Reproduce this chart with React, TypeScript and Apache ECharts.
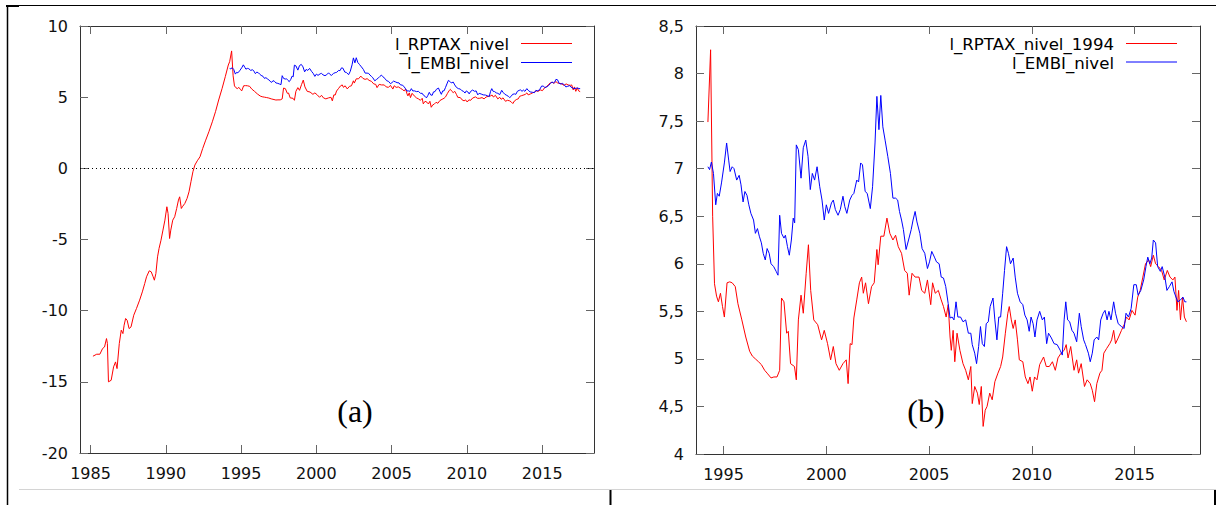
import React, { useEffect, useRef } from 'react';
import * as echarts from 'echarts';

// l_RPTAX_nivel before the EMBI sample starts (decimal years)
const rptaxEarlyYears = [
  1985.16, 1985.41, 1985.62, 1985.8, 1985.93, 1986.06, 1986.12, 1986.19, 1986.37, 1986.53,
  1986.66, 1986.76, 1986.91, 1987.04, 1987.15, 1987.23, 1987.33, 1987.43, 1987.56, 1987.69,
  1987.87, 1988.05, 1988.26, 1988.44, 1988.6, 1988.72, 1988.9, 1989.03, 1989.16, 1989.24,
  1989.34, 1989.45, 1989.55, 1989.68, 1989.81, 1989.94, 1990.07, 1990.15, 1990.25, 1990.33,
  1990.46, 1990.59, 1990.72, 1990.84, 1990.92, 1991.03, 1991.1, 1991.26, 1991.41, 1991.54,
  1991.67, 1991.8, 1991.93, 1992.09, 1992.27, 1992.45, 1992.65, 1992.86, 1993.09, 1993.3,
  1993.51, 1993.74, 1993.95, 1994.15,
];
const rptaxEarlyValues = [
  -13.2, -13.06, -13.06, -12.66, -12.55, -11.96, -12.3, -15.0, -14.89, -13.95,
  -13.6, -14.07, -12.31, -11.37, -11.61, -11.02, -10.55, -10.67, -11.26, -11.14,
  -10.32, -9.85, -9.26, -8.68, -8.09, -7.62, -7.2, -7.27, -7.62, -7.86,
  -7.39, -6.22, -5.63, -5.05, -4.34, -3.64, -2.7, -3.17, -4.93, -4.34,
  -3.64, -3.4, -2.82, -2.23, -2.0, -2.82, -2.7, -2.47, -2.12, -1.65,
  -0.94, -0.24, 0.23, 0.53, 0.81, 1.4, 1.98, 2.57, 3.27, 3.98,
  4.8, 5.62, 6.44, 7.26,
];

// l_RPTAX_nivel from 1994 on (also drawn as l_RPTAX_nivel_1994)
const rptaxYears = [
  1994.24, 1994.37, 1994.47, 1994.56, 1994.66, 1994.75, 1994.85, 1994.95, 1995.04, 1995.17,
  1995.3, 1995.42, 1995.57, 1995.7, 1995.89, 1996.08, 1996.27, 1996.4, 1996.55, 1996.7,
  1996.84, 1997.0, 1997.12, 1997.31, 1997.45, 1997.6, 1997.73, 1997.82, 1997.94, 1998.07,
  1998.15, 1998.26, 1998.45, 1998.54, 1998.64, 1998.77, 1998.88, 1999.02, 1999.13, 1999.24,
  1999.39, 1999.58, 1999.77, 1999.9, 2000.06, 2000.21, 2000.34, 2000.47, 2000.63, 2000.81,
  2000.97, 2001.06, 2001.16, 2001.25, 2001.34, 2001.48, 2001.61, 2001.72, 2001.8, 2001.91,
  2002.05, 2002.2, 2002.33, 2002.46, 2002.52, 2002.65, 2002.8, 2002.95, 2003.09, 2003.24,
  2003.37, 2003.5, 2003.66, 2003.81, 2003.94, 2004.03, 2004.17, 2004.32, 2004.51, 2004.64,
  2004.79, 2004.92, 2005.08, 2005.17, 2005.3, 2005.45, 2005.59, 2005.7, 2005.83, 2005.93,
  2006.02, 2006.08, 2006.17, 2006.25, 2006.36, 2006.5, 2006.65, 2006.78, 2006.91, 2007.03,
  2007.1, 2007.22, 2007.35, 2007.44, 2007.54, 2007.63, 2007.73, 2007.82, 2007.95, 2008.07,
  2008.2, 2008.35, 2008.48, 2008.58, 2008.71, 2008.83, 2008.9, 2009.0, 2009.09, 2009.19,
  2009.3, 2009.39, 2009.56, 2009.68, 2009.81, 2009.91, 2010.02, 2010.13, 2010.25, 2010.38,
  2010.57, 2010.7, 2010.85, 2011.0, 2011.14, 2011.27, 2011.42, 2011.57, 2011.67, 2011.76,
  2011.89, 2012.05, 2012.18, 2012.27, 2012.4, 2012.56, 2012.69, 2012.84, 2012.94, 2013.05,
  2013.16, 2013.31, 2013.41, 2013.5, 2013.64, 2013.79, 2013.88, 2013.98, 2014.07, 2014.22,
  2014.36, 2014.49, 2014.6, 2014.73, 2014.87, 2015.02, 2015.15, 2015.27, 2015.4, 2015.53,
  2015.68, 2015.78, 2015.91, 2016.02, 2016.16, 2016.31, 2016.44, 2016.59, 2016.72, 2016.86,
  2016.96, 2017.06, 2017.14, 2017.23, 2017.33, 2017.42, 2017.52,
];
const rptaxValues = [
  7.49, 8.25, 6.5, 5.79, 5.66, 5.6, 5.69, 5.55, 5.44, 5.8,
  5.81, 5.8, 5.76, 5.58, 5.41, 5.23, 5.08, 5.03, 5.0, 4.97,
  4.94, 4.88, 4.85, 4.8, 4.81, 4.81, 4.88, 5.64, 5.6, 5.27,
  5.29, 4.95, 4.92, 4.78, 5.41, 5.67, 5.48, 5.9, 6.2, 5.72,
  5.41, 5.36, 5.2, 5.3, 5.16, 4.99, 5.13, 4.95, 4.88, 4.95,
  4.99, 4.74, 5.16, 5.15, 5.43, 5.62, 5.8, 5.86, 5.69, 5.8,
  5.58, 5.76, 5.8, 6.15, 5.99, 6.29, 6.29, 6.48, 6.32, 6.25,
  6.3, 6.18, 6.11, 5.93, 5.9, 5.67, 5.9, 5.86, 5.86, 5.72,
  5.69, 5.83, 5.57, 5.8, 5.69, 5.72, 5.62, 5.55, 5.44, 5.57,
  5.23, 5.09, 5.3, 4.97, 5.27, 5.09, 4.95, 4.88, 4.78, 4.92,
  4.53, 4.71, 4.64, 4.52, 4.71, 4.29, 4.46, 4.5, 4.64, 4.57,
  4.76, 4.85, 4.92, 5.02, 5.27, 5.48, 5.55, 5.41, 5.32, 5.41,
  5.2, 4.99, 4.97, 4.81, 4.74, 4.81, 4.66, 4.81, 4.78, 4.94,
  5.02, 4.92, 4.92, 4.97, 4.88, 5.01, 5.06, 5.09, 5.15, 5.01,
  5.13, 4.88, 4.99, 4.85, 4.95, 4.71, 4.78, 4.74, 4.67, 4.55,
  4.74, 4.85, 4.88, 5.06, 5.11, 5.16, 5.2, 5.3, 5.16, 5.23,
  5.3, 5.36, 5.44, 5.41, 5.51, 5.46, 5.65, 5.72, 5.86, 6.0,
  6.04, 5.97, 6.09, 6.0, 5.97, 5.93, 5.83, 5.93, 5.86, 5.83,
  5.86, 5.51, 5.72, 5.41, 5.65, 5.44, 5.39,
];

// l_EMBI_nivel
const embiYears = [
  1994.24, 1994.32, 1994.41, 1994.51, 1994.62, 1994.7, 1994.79, 1994.9, 1995.04, 1995.15,
  1995.25, 1995.32, 1995.42, 1995.51, 1995.64, 1995.76, 1995.85, 1995.95, 1996.04, 1996.14,
  1996.23, 1996.33, 1996.46, 1996.55, 1996.65, 1996.74, 1996.84, 1996.93, 1997.03, 1997.12,
  1997.22, 1997.31, 1997.44, 1997.56, 1997.65, 1997.73, 1997.82, 1997.94, 1998.01, 1998.11,
  1998.2, 1998.3, 1998.39, 1998.46, 1998.54, 1998.64, 1998.77, 1998.88, 1999.0, 1999.11,
  1999.22, 1999.32, 1999.43, 1999.55, 1999.68, 1999.79, 1999.9, 2000.0, 2000.11, 2000.25,
  2000.34, 2000.44, 2000.57, 2000.68, 2000.81, 2000.9, 2001.0, 2001.14, 2001.25, 2001.34,
  2001.48, 2001.57, 2001.67, 2001.76, 2001.89, 2001.99, 2002.14, 2002.25, 2002.37, 2002.46,
  2002.56, 2002.65, 2002.75, 2002.86, 2002.99, 2003.12, 2003.24, 2003.37, 2003.47, 2003.56,
  2003.66, 2003.75, 2003.88, 2004.0, 2004.13, 2004.22, 2004.32, 2004.41, 2004.55, 2004.66,
  2004.79, 2004.92, 2005.02, 2005.13, 2005.26, 2005.36, 2005.49, 2005.59, 2005.7, 2005.81,
  2005.93, 2006.02, 2006.12, 2006.21, 2006.31, 2006.4, 2006.53, 2006.65, 2006.78, 2006.91,
  2007.03, 2007.1, 2007.22, 2007.31, 2007.41, 2007.5, 2007.59, 2007.69, 2007.78, 2007.88,
  2007.97, 2008.11, 2008.2, 2008.3, 2008.39, 2008.48, 2008.58, 2008.67, 2008.77, 2008.86,
  2008.96, 2009.09, 2009.19, 2009.3, 2009.43, 2009.56, 2009.66, 2009.77, 2009.87, 2009.96,
  2010.06, 2010.15, 2010.25, 2010.38, 2010.51, 2010.61, 2010.72, 2010.81, 2010.95, 2011.08,
  2011.23, 2011.38, 2011.48, 2011.57, 2011.65, 2011.74, 2011.84, 2011.95, 2012.05, 2012.18,
  2012.31, 2012.4, 2012.52, 2012.61, 2012.75, 2012.84, 2012.94, 2013.03, 2013.16, 2013.25,
  2013.35, 2013.47, 2013.56, 2013.66, 2013.75, 2013.85, 2013.98, 2014.07, 2014.2, 2014.36,
  2014.49, 2014.58, 2014.7, 2014.83, 2014.96, 2015.08, 2015.17, 2015.3, 2015.44, 2015.55,
  2015.64, 2015.74, 2015.83, 2015.91, 2016.02, 2016.12, 2016.25, 2016.34, 2016.48, 2016.57,
  2016.69, 2016.82, 2016.91, 2017.01, 2017.1, 2017.23, 2017.35, 2017.44, 2017.52,
];
const embiValues = [
  7.02, 6.99, 7.07, 6.95, 6.62, 6.74, 6.71, 6.85, 7.06, 7.27,
  7.09, 6.97, 7.02, 7.0, 6.88, 6.93, 6.83, 6.65, 6.76, 6.72,
  6.62, 6.53, 6.46, 6.32, 6.37, 6.29, 6.22, 6.11, 6.04, 6.16,
  6.11, 6.0, 5.97, 5.92, 5.88, 6.51, 6.32, 6.27, 6.3, 6.18,
  6.09, 6.25, 6.48, 6.43, 7.25, 7.2, 6.9, 7.22, 7.3, 7.13,
  6.78, 6.95, 6.88, 7.02, 6.81, 6.67, 6.46, 6.62, 6.53, 6.64,
  6.67, 6.57, 6.51, 6.57, 6.71, 6.6, 6.53, 6.67, 6.72, 6.74,
  6.88, 6.86, 7.06, 7.04, 6.76, 6.74, 6.58, 6.81, 7.27, 7.76,
  7.41, 7.77, 7.44, 7.3, 7.13, 6.95, 6.69, 6.69, 6.67, 6.55,
  6.46, 6.36, 6.15, 6.25, 6.36, 6.46, 6.55, 6.44, 6.32, 6.16,
  6.11, 5.95, 6.02, 6.13, 6.07, 6.02, 6.0, 5.86, 5.85, 5.76,
  5.58, 5.43, 5.44, 5.41, 5.6, 5.44, 5.44, 5.39, 5.41, 5.27,
  5.27, 5.15, 5.06, 4.95, 5.13, 5.34, 5.16, 5.13, 5.37, 5.39,
  5.55, 5.64, 5.41, 5.2, 5.44, 5.44, 5.69, 5.93, 6.18, 6.11,
  6.0, 6.06, 5.86, 5.69, 5.6, 5.57, 5.46, 5.41, 5.29, 5.44,
  5.37, 5.23, 5.41, 5.5, 5.41, 5.44, 5.16, 5.27, 5.22, 5.16,
  5.15, 5.09, 5.04, 5.41, 5.6, 5.41, 5.39, 5.3, 5.27, 5.18,
  5.48, 5.34, 5.2, 5.15, 5.06, 4.97, 5.06, 5.2, 5.23, 5.2,
  5.41, 5.48, 5.51, 5.41, 5.5, 5.41, 5.6, 5.48, 5.37, 5.34,
  5.32, 5.48, 5.44, 5.53, 5.78, 5.78, 5.67, 5.72, 5.83, 5.97,
  6.07, 6.0, 6.06, 6.25, 6.22, 5.97, 5.92, 5.97, 5.85, 5.72,
  5.76, 5.81, 5.71, 5.65, 5.6, 5.62, 5.65, 5.6, 5.6,
];

const leftYearTicks = [1985, 1990, 1995, 2000, 2005, 2010, 2015];
const rightYearTicks = [1995, 2000, 2005, 2010, 2015];

const RED = '#ff0000';
const BLUE = '#0000ff';
const SANS = 'DejaVu Sans';

const pairs = (xs: number[], ys: number[]) => xs.map((x, i) => [x, ys[i]]);

const frameLine = { show: true, onZero: false, lineStyle: { color: '#333', width: 1 } };
const tickStyle = { color: '#666', width: 1 };
const labelStyle = { color: '#111', fontFamily: SANS, fontSize: 16 };

function xAxisPair(gridIndex: number, min: number, max: number, ticks: number[]) {
  return [
    {
      type: 'value', gridIndex, position: 'bottom', min, max,
      axisLine: frameLine,
      axisTick: { show: true, inside: true, length: 8, customValues: ticks, lineStyle: tickStyle },
      axisLabel: { ...labelStyle, show: true, margin: 12, customValues: ticks, formatter: (v: number) => String(v) },
      splitLine: { show: false },
    },
    {
      type: 'value', gridIndex, position: 'top', min, max,
      axisLine: frameLine,
      axisTick: { show: true, inside: true, length: 8, customValues: ticks, lineStyle: tickStyle },
      axisLabel: { show: false },
      splitLine: { show: false },
    },
  ];
}

function yAxisPair(gridIndex: number, min: number, max: number, interval: number, fmt: (v: number) => string) {
  return [
    {
      type: 'value', gridIndex, position: 'left', min, max, interval,
      axisLine: frameLine,
      axisTick: { show: true, inside: true, length: 8, lineStyle: tickStyle },
      axisLabel: { ...labelStyle, show: true, margin: 12, formatter: fmt },
      splitLine: { show: false },
    },
    {
      type: 'value', gridIndex, position: 'right', min, max, interval,
      axisLine: frameLine,
      axisTick: { show: true, inside: true, length: 8, lineStyle: tickStyle },
      axisLabel: { show: false },
      splitLine: { show: false },
    },
  ];
}

function legendEntry(textRight: number, y: number, text: string, x1: number, x2: number, lineY: number, color: string) {
  return [
    {
      type: 'text', x: textRight, y,
      style: { text, fill: '#000', font: `16.6px '${SANS}'`, textAlign: 'right', textVerticalAlign: 'middle' },
    },
    {
      type: 'line',
      shape: { x1, y1: lineY, x2, y2: lineY },
      style: { stroke: color, lineWidth: 1 },
    },
  ];
}

function buildOption() {
  const line = (name: string, data: number[][], color: string, axisIdx: number, extra: object = {}) => ({
    type: 'line', name, data, xAxisIndex: axisIdx, yAxisIndex: axisIdx,
    symbol: 'none', smooth: false, silent: true,
    lineStyle: { color, width: 1 }, itemStyle: { color },
    ...extra,
  });

  return {
    animation: false,
    backgroundColor: '#ffffff',
    grid: [
      { left: 80, top: 26, width: 514, height: 427 },
      { left: 696, top: 26, width: 504, height: 428 },
    ],
    xAxis: [
      ...xAxisPair(0, 1984.3, 2018.44, leftYearTicks),
      ...xAxisPair(1, 1993.66, 2018.18, rightYearTicks),
    ],
    yAxis: [
      ...yAxisPair(0, -20, 10, 5, (v: number) => String(v)),
      ...yAxisPair(1, 4, 8.5, 0.5, (v: number) => String(v).replace('.', ',')),
    ],
    series: [
      line(
        'l_RPTAX_nivel',
        pairs([...rptaxEarlyYears, ...rptaxYears], [...rptaxEarlyValues, ...rptaxValues]),
        RED, 0,
        {
          markLine: {
            silent: true,
            symbol: ['none', 'none'],
            label: { show: false },
            lineStyle: { color: '#000', width: 1, type: [1, 3] },
            data: [{ yAxis: 0 }],
          },
        },
      ),
      line('l_EMBI_nivel', pairs(embiYears, embiValues), BLUE, 0),
      { ...line('l_RPTAX_nivel_1994', pairs(rptaxYears, rptaxValues), RED, 0), xAxisIndex: 2, yAxisIndex: 2 },
      { ...line('l_EMBI_nivel', pairs(embiYears, embiValues), BLUE, 0), xAxisIndex: 2, yAxisIndex: 2 },
    ],
    graphic: [
      // page frame
      { type: 'line', shape: { x1: 7, y1: 5.5, x2: 1216, y2: 5.5 }, style: { stroke: '#000', lineWidth: 1 } },
      { type: 'rect', shape: { x: 6, y: 5, width: 13, height: 2 }, style: { fill: '#000' } },
      { type: 'line', shape: { x1: 7.5, y1: 5, x2: 7.5, y2: 505 }, style: { stroke: '#000', lineWidth: 1.5 } },
      { type: 'line', shape: { x1: 19, y1: 489.5, x2: 1216, y2: 489.5 }, style: { stroke: '#d4d4d4', lineWidth: 1 } },
      { type: 'rect', shape: { x: 609.5, y: 490, width: 2, height: 15 }, style: { fill: '#000' } },
      { type: 'rect', shape: { x: 1214, y: 490, width: 2, height: 15 }, style: { fill: '#000' } },
      // keys
      ...legendEntry(509, 44, 'l_RPTAX_nivel', 521, 572, 43.5, RED),
      ...legendEntry(509, 63, 'l_EMBI_nivel', 521, 572, 62.5, BLUE),
      ...legendEntry(1114, 44, 'l_RPTAX_nivel_1994', 1126, 1177, 43.5, RED),
      ...legendEntry(1114, 63, 'l_EMBI_nivel', 1126, 1177, 62, BLUE),
      // panel tags
      {
        type: 'text', x: 355, y: 411,
        style: { text: '(a)', fill: '#000', font: "32px 'Liberation Serif'", textAlign: 'center', textVerticalAlign: 'middle' },
      },
      {
        type: 'text', x: 926, y: 411,
        style: { text: '(b)', fill: '#000', font: "32px 'Liberation Serif'", textAlign: 'center', textVerticalAlign: 'middle' },
      },
    ],
  };
}

export default function App() {
  const ref = useRef<HTMLDivElement>(null);
  useEffect(() => {
    if (!ref.current) return;
    const chart = echarts.init(ref.current, null, { renderer: 'svg' });
    chart.setOption(buildOption() as any);
    return () => chart.dispose();
  }, []);
  return (
    <div
      ref={ref}
      style={{ position: 'absolute', left: 0, top: 0, width: 1216, height: 505, background: '#fff' }}
    />
  );
}
